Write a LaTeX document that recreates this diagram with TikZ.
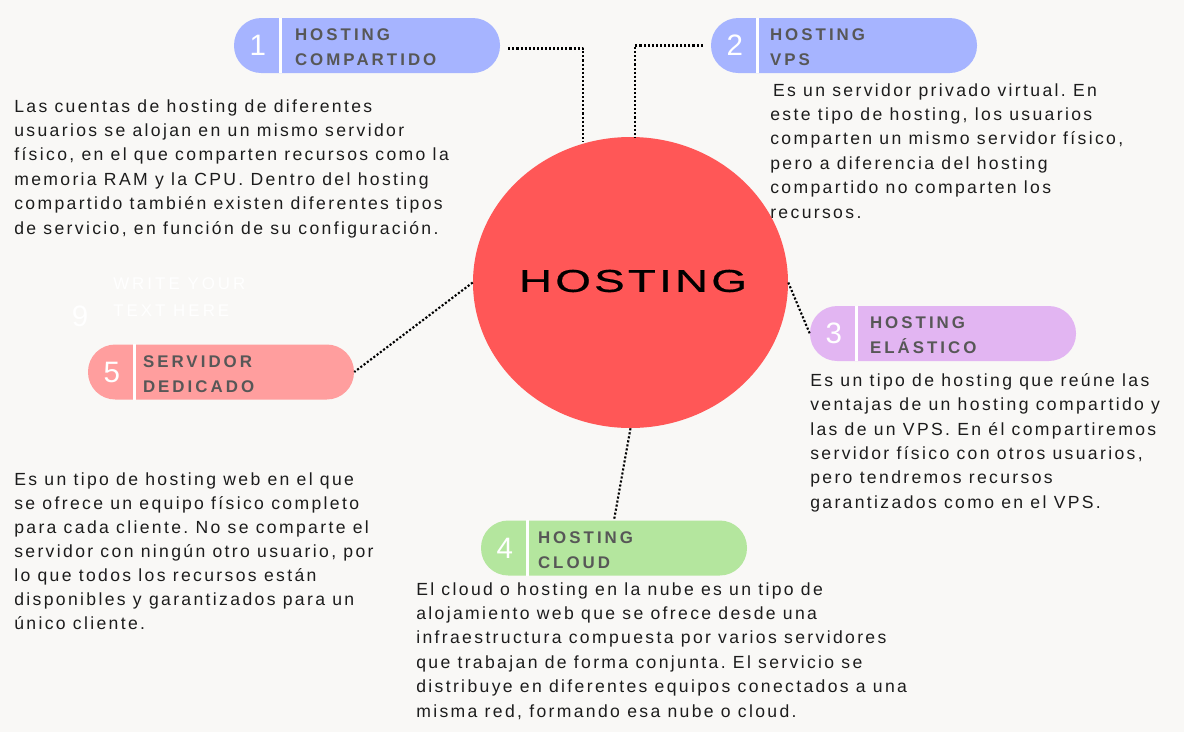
\documentclass[tikz,border=0pt]{standalone}
\usepackage{fontspec}
\usepackage{xcolor}
\usepackage{tikz}
\usetikzlibrary{calc,positioning,shapes.geometric}
\newfontfamily\bodyfont{Liberation Sans}[LetterSpace=13.4]
\newfontfamily\headfont{Liberation Sans}[LetterSpace=18]
\newfontfamily\hubfont{Liberation Sans}[FakeStretch=1.45,LetterSpace=10,FakeBold=0.6]
\newfontfamily\numfont{Liberation Sans}
\frenchspacing
\definecolor{bgpaper}{HTML}{F9F8F6}
\definecolor{hubred}{HTML}{FF5757}
\definecolor{pillblue}{HTML}{A6B4FF}
\definecolor{pilllila}{HTML}{E2B5F2}
\definecolor{pillgreen}{HTML}{B4E69E}
\definecolor{pillpink}{HTML}{FF9E9E}
\definecolor{headgray}{HTML}{575757}
\definecolor{txtdark}{HTML}{1C1C1C}
\tikzset{
  pill/.style={rectangle, rounded corners=0.68cm, minimum width=266*0.025cm,
    minimum height=55*0.025cm, inner sep=0pt},
  numtxt/.style={text=white, font=\numfont\fontsize{21}{23}\selectfont, inner sep=0pt},
  headtxt/.style={anchor=west, inner sep=0pt, align=left, text=headgray,
    font=\headfont\bfseries\fontsize{12}{17.8}\selectfont},
  bodytxt/.style={anchor=north west, inner sep=0pt, align=left, text=txtdark,
    font=\bodyfont\fontsize{12.5}{17.35}\selectfont},
  divline/.style={white, line width=2.2pt},
  dotline/.style={black, line width=1.5pt, dash pattern=on 1.5pt off 1.4pt},
  every picture/.style={line cap=butt, line join=round}
}

\begin{document}
\begin{tikzpicture}[x=0.025cm, y=-0.025cm]
  \fill[bgpaper] (0,0) rectangle (1184,732);
  \useasboundingbox (0,0) rectangle (1184,732);

  \node[ellipse, fill=hubred, minimum width=315*0.025cm, minimum height=291*0.025cm,
    inner sep=0pt] (hub) at (630.5,282.5) {};
  \node[font=\hubfont\fontsize{22.5}{24}\selectfont, text=black] (hubtxt) at (633,281) {HOSTING};

  % pills
  \node[pill, fill=pillblue] (p1) at (367,45.5) {};
  \node[pill, fill=pillblue] (p2) at (844,45.5) {};
  \node[pill, fill=pilllila] (p3) at (943,333.5) {};
  \node[pill, fill=pillgreen] (p4) at (614,548) {};
  \node[pill, fill=pillpink] (p5) at (221,372) {};
  \foreach \p in {p1,p2,p3,p4,p5}
    \draw[divline] ($(\p.north west)+(47,0)$) -- ($(\p.south west)+(47,0)$);

  \node[numtxt] (n1) at ($(p1.west)+(24,0)$) {1};
  \node[numtxt] (n2) at ($(p2.west)+(24,0)$) {2};
  \node[numtxt] (n3) at ($(p3.west)+(24,0)$) {3};
  \node[numtxt] (n4) at ($(p4.west)+(24,0)$) {4};
  \node[numtxt] (n5) at ($(p5.west)+(24,0)$) {5};

  \node[headtxt] (h1) at ($(p1.west)+(61,2)$) {HOSTING\\COMPARTIDO};
  \node[headtxt] (h2) at ($(p2.west)+(59,2)$) {HOSTING\\VPS};
  \node[headtxt] (h3) at ($(p3.west)+(60,2)$) {HOSTING\\ELÁSTICO};
  \node[headtxt] (h4) at ($(p4.west)+(57,2)$) {HOSTING\\CLOUD};
  \node[headtxt] (h5) at ($(p5.west)+(55,2)$) {SERVIDOR\\DEDICADO};

  % placeholder left in the template
  \node[numtxt] (n9) at (80,316) {9};
  \node[headtxt, text=white, font=\headfont\fontsize{12}{19.2}\selectfont] (h9) at (113,297) {WRITE YOUR\\TEXT HERE};

  % connectors
  \coordinate (k1) at (583,141);
  \coordinate (k2) at (635,137);
  \draw[dotline] ($(p1.east)+(8,3)$) -| (k1);
  \draw[dotline] ($(p2.west)+(-8,0)$) -| (k2);
  \draw[dotline] (hub.east) -- (p3.west);
  \draw[dotline] (hub.south) -- (p4.north);
  \draw[dotline] (hub.west) -- (p5.east);

  % descriptions
  \node[bodytxt] (t1) at (14,99) {Las cuentas de hosting de diferentes\\
    usuarios se alojan en un mismo servidor\\
    físico, en el que comparten recursos como la\\
    memoria RAM y la CPU. Dentro del hosting\\
    compartido también existen diferentes tipos\\
    de servicio, en función de su configuración.};
  \node[bodytxt] (t2) at (770,83) {\kern2pt Es un servidor privado virtual. En\\
    este tipo de hosting, los usuarios\\
    comparten un mismo servidor físico,\\
    pero a diferencia del hosting\\
    compartido no comparten los\\
    recursos.};
  \node[bodytxt] (t3) at (810,373) {Es un tipo de hosting que reúne las\\
    ventajas de un hosting compartido y\\
    las de un VPS. En él compartiremos\\
    servidor físico con otros usuarios,\\
    pero tendremos recursos\\
    garantizados como en el VPS.};
  \node[bodytxt, font=\bodyfont\fontsize{12.5}{17.15}\selectfont] (t5) at (14,472) {Es un tipo de hosting web en el que\\
    se ofrece un equipo físico completo\\
    para cada cliente. No se comparte el\\
    servidor con ningún otro usuario, por\\
    lo que todos los recursos están\\
    disponibles y garantizados para un\\
    único cliente.};
  \node[bodytxt] (t4) at (416,582) {El cloud o hosting en la nube es un tipo de\\
    alojamiento web que se ofrece desde una\\
    infraestructura compuesta por varios servidores\\
    que trabajan de forma conjunta. El servicio se\\
    distribuye en diferentes equipos conectados a una\\
    misma red, formando esa nube o cloud.};
\end{tikzpicture}
\end{document}
